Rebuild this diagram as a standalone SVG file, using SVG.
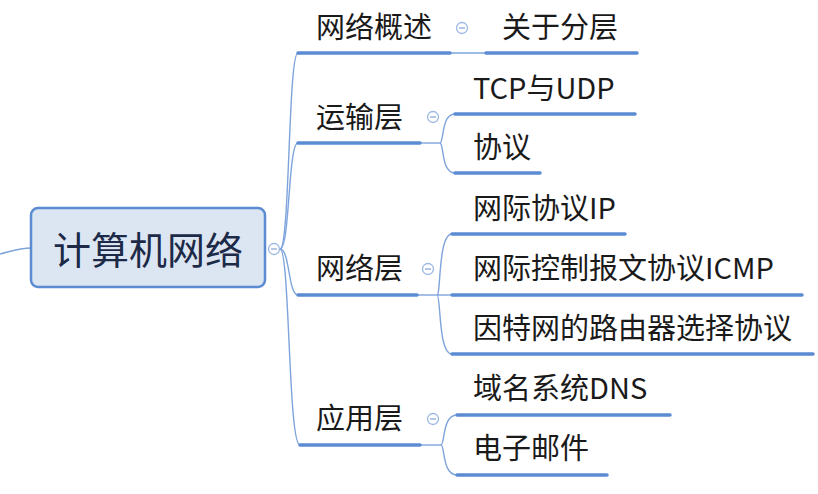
<svg xmlns="http://www.w3.org/2000/svg" width="818" height="494" viewBox="0 0 818 494">
<style>
.bg{fill:#ffffff}
.con{fill:none;stroke:#7ea4dc;stroke-width:1.4}
.ul{fill:none;stroke:#5b8cd3;stroke-width:3.5;stroke-linecap:round}
.t{font-family:"Noto Sans CJK SC","Microsoft YaHei",sans-serif;font-size:29px;fill:#1a1a1a}
.ct{font-family:"Noto Sans CJK SC","Microsoft YaHei",sans-serif;font-size:38px;fill:#1c2a48;text-anchor:middle}
.box{fill:#dce6f2;stroke:#5b8cd3;stroke-width:2.5}
.cc{fill:#ffffff;stroke:#9ab8e4;stroke-width:1.3}
.cm{stroke:#8aa9dc;stroke-width:1.3}
</style>
<rect class="bg" x="0" y="0" width="818" height="494"/>
<g id="connectors">
<path class="con" d="M0,254 C12,251 20,248 31,248"/>
<path class="con" d="M280,249 C290,249 288,53 298,53"/>
<path class="con" d="M280,249 C290,249 288,143 298,143"/>
<path class="con" d="M280,249 C290,249 288,295 298,295"/>
<path class="con" d="M280,249 C290,249 288,445 300,445"/>
<path class="con" d="M450,53 L485,53"/>
<path class="con" d="M420,143 L440,143"/>
<path class="con" d="M440,143 C444,143 441,114 455,114"/>
<path class="con" d="M440,143 C444,143 441,173 455,173"/>
<path class="con" d="M417,295 L437,295"/>
<path class="con" d="M437,295 C441,295 438,234 452,234"/>
<path class="con" d="M437,295 L452,295"/>
<path class="con" d="M437,295 C441,295 438,354 452,354"/>
<path class="con" d="M420,445 L441,445"/>
<path class="con" d="M441,445 C445,445 442,415 457,415"/>
<path class="con" d="M441,445 C445,445 442,475 457,475"/>
</g>
<g id="root">
<rect class="box" x="31" y="208" width="234" height="79" rx="7"/>
<text class="ct" x="148" y="264">计算机网络</text>
<circle class="cc" cx="274" cy="249" r="5.5"/>
<line class="cm" x1="271" y1="249" x2="277" y2="249"/>
</g>
<g id="n-gaishu">
<line class="ul" x1="298" y1="53" x2="450" y2="53"/>
<text class="t" x="316" y="38">网络概述</text>
<circle class="cc" cx="462" cy="28" r="5.5"/>
<line class="cm" x1="459" y1="28" x2="465" y2="28"/>
</g>
<g id="n-fenceng">
<line class="ul" x1="486" y1="53" x2="637" y2="53"/>
<text class="t" x="502" y="38">关于分层</text>
</g>
<g id="n-yunshu">
<line class="ul" x1="298" y1="143" x2="420" y2="143"/>
<text class="t" x="316" y="128">运输层</text>
<circle class="cc" cx="433" cy="117" r="5.5"/>
<line class="cm" x1="430" y1="117" x2="436" y2="117"/>
</g>
<g id="n-tcp">
<line class="ul" x1="455" y1="114" x2="635" y2="114"/>
<text class="t" x="473" y="99">TCP与UDP</text>
</g>
<g id="n-xieyi">
<line class="ul" x1="455" y1="173" x2="540" y2="173"/>
<text class="t" x="473" y="158">协议</text>
</g>
<g id="n-wangluo">
<line class="ul" x1="298" y1="295" x2="417" y2="295"/>
<text class="t" x="316" y="279">网络层</text>
<circle class="cc" cx="428" cy="269" r="5.5"/>
<line class="cm" x1="425" y1="269" x2="431" y2="269"/>
</g>
<g id="n-ip">
<line class="ul" x1="452" y1="234" x2="625" y2="234"/>
<text class="t" x="473" y="219">网际协议IP</text>
</g>
<g id="n-icmp">
<line class="ul" x1="452" y1="295" x2="802" y2="295"/>
<text class="t" x="473" y="279">网际控制报文协议ICMP</text>
</g>
<g id="n-route">
<line class="ul" x1="452" y1="354" x2="813" y2="354"/>
<text class="t" x="473" y="339">因特网的路由器选择协议</text>
</g>
<g id="n-yingyong">
<line class="ul" x1="300" y1="445" x2="420" y2="445"/>
<text class="t" x="316" y="429">应用层</text>
<circle class="cc" cx="433" cy="419" r="5.5"/>
<line class="cm" x1="430" y1="419" x2="436" y2="419"/>
</g>
<g id="n-dns">
<line class="ul" x1="457" y1="415" x2="670" y2="415"/>
<text class="t" x="473" y="399">域名系统DNS</text>
</g>
<g id="n-mail">
<line class="ul" x1="457" y1="475" x2="607" y2="475"/>
<text class="t" x="473" y="459">电子邮件</text>
</g>
</svg>
